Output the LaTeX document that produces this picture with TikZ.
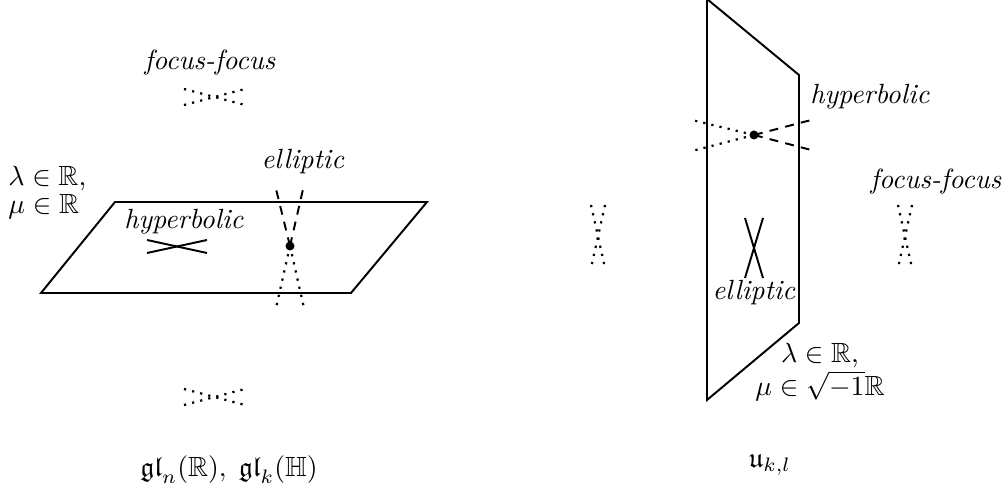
\documentclass[tikz,border=0pt]{standalone}
\usepackage{amssymb}
\begin{document}
\begin{tikzpicture}[x=0.36pt,y=-0.36pt,
  edge/.style={line width=0.7pt},
  dotline/.style={line width=0.8pt, dash pattern=on 0.8pt off 2.2pt},
  dashline/.style={line width=0.7pt, dash pattern=on 3.2pt off 2.6pt},
  lab/.style={inner sep=1pt}]
\useasboundingbox (0,0) rectangle (1007,497);
% left parallelogram
\coordinate (p1) at (115,202);
\coordinate (p2) at (427,202);
\coordinate (p3) at (351,293);
\coordinate (p4) at (41,293);
\draw[edge] (p1) -- (p2) -- (p3) -- (p4) -- cycle;
% hyperbolic X left
\coordinate (h1) at (147,240);
\coordinate (h2) at (207,253);
\coordinate (h3) at (147,253);
\coordinate (h4) at (207,240);
\draw[edge] (h1) -- (h2);
\draw[edge] (h3) -- (h4);
% elliptic point left
\coordinate (e0) at (290,246);
\coordinate (eu1) at (275,185);
\coordinate (eu2) at (304,185);
\coordinate (ed1) at (276,308);
\coordinate (ed2) at (304,308);
\draw[dashline] (e0) -- (eu1);
\draw[dashline] (e0) -- (eu2);
\draw[dotline] (e0) -- (ed1);
\draw[dotline] (e0) -- (ed2);
\fill (e0) circle (4.5);
% focus-focus top and bottom (left)
\foreach \cy/\nm in {97/ft,397/fb}{
  \coordinate (\nm1) at (184,\cy-8);
  \coordinate (\nm2) at (245,\cy+8);
  \coordinate (\nm3) at (184,\cy+8);
  \coordinate (\nm4) at (245,\cy-8);
  \draw[dotline] (\nm1) -- (\nm2);
  \draw[dotline] (\nm3) -- (\nm4);
}
% middle and right vertical dotted X
\foreach \cx/\nm in {598/fm,905/fr}{
  \coordinate (\nm1) at (\cx-7,205);
  \coordinate (\nm2) at (\cx+7,268);
  \coordinate (\nm3) at (\cx+7,205);
  \coordinate (\nm4) at (\cx-7,268);
  \draw[dotline] (\nm1) -- (\nm2);
  \draw[dotline] (\nm3) -- (\nm4);
}
% right trapezoid
\coordinate (q1) at (707,-1);
\coordinate (q2) at (799,75);
\coordinate (q3) at (799,323);
\coordinate (q4) at (707,400);
\draw[edge] (q1) -- (q2) -- (q3) -- (q4) -- cycle;
% elliptic X right
\coordinate (r1) at (745,218);
\coordinate (r2) at (763,278);
\coordinate (r3) at (763,218);
\coordinate (r4) at (745,278);
\draw[edge] (r1) -- (r2);
\draw[edge] (r3) -- (r4);
% hyperbolic point right
\coordinate (k0) at (754,135);
\coordinate (kl1) at (692,120);
\coordinate (kl2) at (692,151);
\coordinate (kr1) at (815,119);
\coordinate (kr2) at (815,151);
\draw[dotline] (k0) -- (kl1);
\draw[dotline] (k0) -- (kl2);
\draw[dashline] (k0) -- (kr1);
\draw[dashline] (k0) -- (kr2);
\fill (k0) circle (4.5);
% labels
\node[lab] (t1) at (210,63) {\textit{focus-focus}};
\node[lab] (t2) at (303,162) {\textit{elliptic}};
\node[lab] (t3) at (184,222) {\textit{hyperbolic}};
\node[lab,anchor=west] (t4a) at (5,179) {$\lambda\in\mathbb{R}$,};
\node[lab,anchor=west] (t4b) at (5,207) {$\mu\in\mathbb{R}$};
\node[lab] (t5) at (229,470) {$\mathfrak{gl}_n(\mathbb{R}),\;\mathfrak{gl}_k(\mathbb{H})$};
\node[lab] (t6) at (870,97) {\textit{hyperbolic}};
\node[lab] (t7) at (936,182) {\textit{focus-focus}};
\node[lab] (t8) at (754,293) {\textit{elliptic}};
\node[lab] (t9a) at (820,356) {$\lambda\in\mathbb{R}$,};
\node[lab] (t9b) at (820,386) {$\mu\in\sqrt{-1}\mathbb{R}$};
\node[lab] (t10) at (770,465) {$\mathfrak{u}_{k,l}$};
\end{tikzpicture}
\end{document}
